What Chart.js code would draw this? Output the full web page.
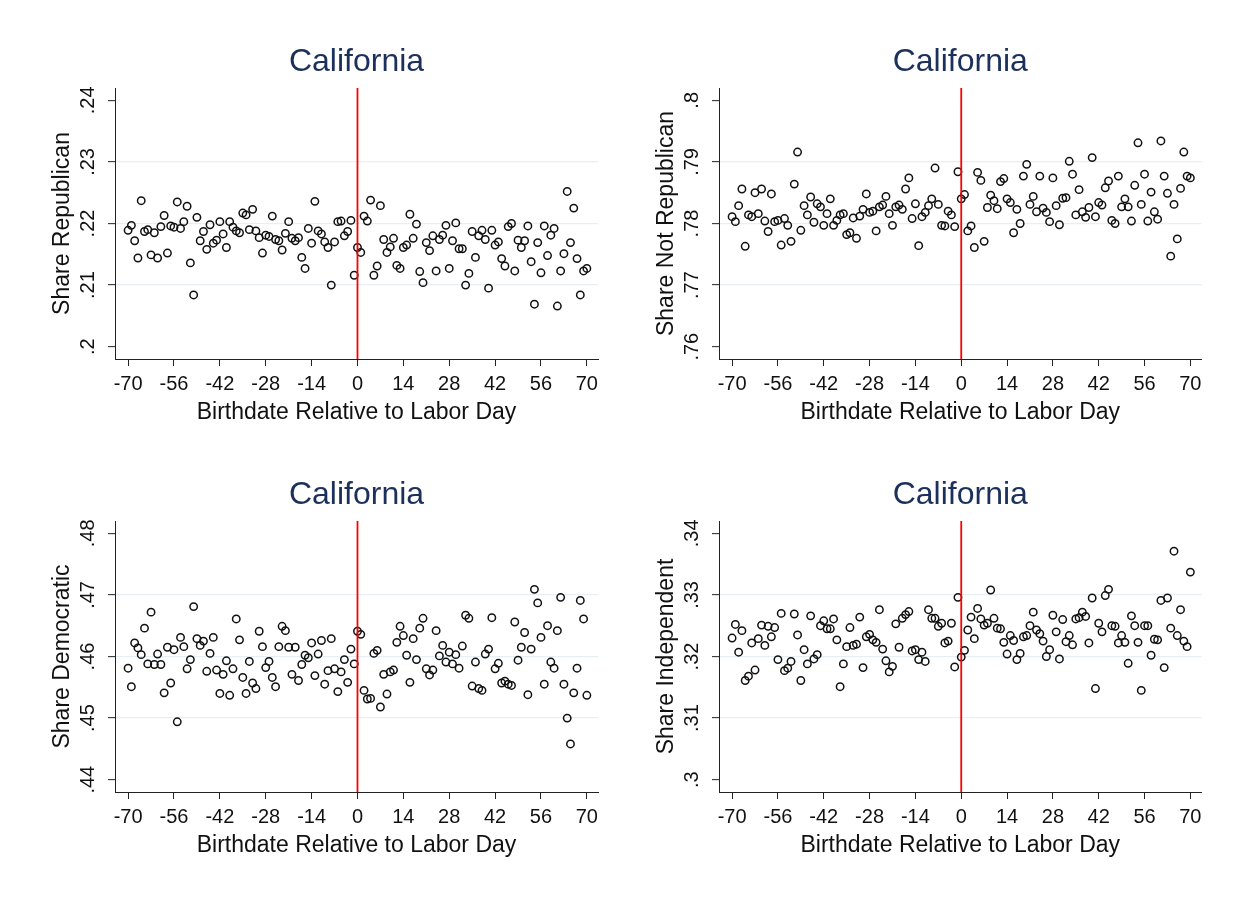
<!DOCTYPE html>
<html>
<head>
<meta charset="utf-8">
<title>California birthdate shares</title>
<script src="https://cdn.jsdelivr.net/npm/chart.js@4.4.1/dist/chart.umd.min.js"></script>
<style>
    html, body { margin: 0; padding: 0; background: #fff; }
    #page { position: relative; width: 1247px; height: 907px; overflow: hidden; background: #fff; }
    canvas { position: absolute; }
</style>
</head>
<body>
<div id="page">
    <canvas id="panel-rep" width="623" height="453" style="left:0;top:0;width:623px;height:453px"></canvas>
    <canvas id="panel-notrep" width="624" height="453" style="left:623px;top:0;width:624px;height:453px"></canvas>
    <canvas id="panel-dem" width="623" height="454" style="left:0;top:453px;width:623px;height:454px"></canvas>
    <canvas id="panel-ind" width="624" height="454" style="left:623px;top:453px;width:624px;height:454px"></canvas>
</div>
<script>
// Días relativos al Labor Day (-70 ... 70)
const days = [];
for (let d = -70; d <= 70; d++) days.push(d);

const xTicks = [-70, -56, -42, -28, -14, 0, 14, 28, 42, 56, 70];

// Share Republican, un valor por día
const shareRepublican = [
    .2189, .2197, .2172, .2144, .2237, .2187, .2190, .2149, .2185, .2144,
    .2195, .2213, .2152, .2196, .2194, .2235, .2192, .2203, .2228, .2136,
    .2084, .2210, .2172, .2187, .2158, .2198, .2168, .2173, .2203, .2183,
    .2161, .2203, .2194, .2188, .2185, .2217, .2214, .2190, .2223, .2188,
    .2177, .2152, .2181, .2179, .2212, .2174, .2172, .2157, .2184, .2203,
    .2176, .2172, .2177, .2145, .2127, .2192, .2168, .2236, .2188, .2183,
    .2170, .2161, .2100, .2170, .2203, .2204, .2180, .2187, .2205, .2116,
    .2161, .2153, .2212, .2204, .2238, .2116, .2131, .2229, .2174, .2153,
    .2162, .2176, .2132, .2127, .2161, .2165, .2215, .2176, .2199, .2122,
    .2104, .2169, .2156, .2180, .2123, .2174, .2181, .2197, .2127, .2172,
    .2201, .2159, .2159, .2100, .2119, .2187, .2145, .2180, .2189, .2174,
    .2095, .2189, .2165, .2170, .2143, .2131, .2195, .2200, .2123, .2173,
    .2161, .2172, .2196, .2138, .2069, .2169, .2120, .2196, .2148, .2181,
    .2192, .2066, .2123, .2151, .2252, .2169, .2225, .2143, .2084, .2123, .2127
];

// Share Not Republican
const shareNotRepublican = [
    .7811, .7803, .7829, .7856, .7763, .7814, .7811, .7850, .7816, .7856,
    .7804, .7787, .7848, .7803, .7805, .7765, .7808, .7797, .7771, .7864,
    .7916, .7789, .7829, .7814, .7843, .7802, .7832, .7827, .7797, .7816,
    .7840, .7797, .7805, .7814, .7816, .7782, .7785, .7809, .7776, .7812,
    .7823, .7848, .7818, .7820, .7788, .7827, .7830, .7844, .7816, .7797,
    .7827, .7830, .7823, .7856, .7874, .7808, .7832, .7764, .7811, .7818,
    .7829, .7840, .7890, .7831, .7797, .7796, .7820, .7814, .7795, .7884,
    .7840, .7847, .7788, .7796, .7761, .7883, .7870, .7771, .7826, .7846,
    .7837, .7824, .7868, .7873, .7840, .7834, .7785, .7823, .7800, .7877,
    .7896, .7831, .7844, .7819, .7877, .7825, .7818, .7803, .7874, .7829,
    .7798, .7841, .7842, .7901, .7880, .7814, .7855, .7819, .7810, .7826,
    .7907, .7811, .7834, .7830, .7858, .7869, .7805, .7800, .7877, .7827,
    .7840, .7827, .7804, .7862, .7931, .7831, .7880, .7804, .7851, .7819,
    .7807, .7934, .7877, .7849, .7747, .7831, .7775, .7857, .7916, .7877, .7874
];

// Share Democratic
const shareDemocratic = [
    .4581, .4551, .4622, .4614, .4603, .4646, .4588, .4672, .4587, .4604,
    .4587, .4541, .4615, .4557, .4611, .4494, .4631, .4616, .4580, .4595,
    .4681, .4629, .4618, .4625, .4576, .4605, .4631, .4578, .4540, .4571,
    .4593, .4537, .4580, .4661, .4627, .4566, .4540, .4592, .4557, .4548,
    .4641, .4616, .4582, .4592, .4566, .4551, .4616, .4649, .4642, .4615,
    .4571, .4615, .4561, .4587, .4602, .4598, .4622, .4569, .4604, .4626,
    .4555, .4577, .4629, .4580, .4543, .4575, .4595, .4558, .4612, .4588,
    .4641, .4636, .4545, .4531, .4532, .4605, .4610, .4518, .4571, .4539,
    .4575, .4578, .4623, .4649, .4634, .4602, .4558, .4629, .4595, .4646,
    .4662, .4580, .4570, .4578, .4642, .4601, .4618, .4591, .4607, .4588,
    .4603, .4581, .4617, .4667, .4662, .4552, .4591, .4548, .4545, .4604,
    .4612, .4663, .4580, .4589, .4557, .4560, .4555, .4553, .4656, .4594,
    .4615, .4639, .4538, .4612, .4709, .4687, .4631, .4555, .4650, .4591,
    .4581, .4642, .4696, .4555, .4500, .4458, .4541, .4581, .4691, .4661, .4537
];

// Share Independent
const shareIndependent = [
    .3230, .3252, .3207, .3242, .3161, .3168, .3222, .3178, .3229, .3251,
    .3218, .3249, .3232, .3247, .3195, .3270, .3177, .3181, .3192, .3269,
    .3235, .3161, .3211, .3188, .3266, .3196, .3203, .3250, .3258, .3245,
    .3245, .3261, .3227, .3151, .3188, .3216, .3247, .3218, .3220, .3264,
    .3182, .3232, .3236, .3227, .3223, .3276, .3212, .3193, .3175, .3184,
    .3253, .3215, .3262, .3268, .3273, .3209, .3211, .3195, .3207, .3192,
    .3276, .3262, .3262, .3249, .3254, .3222, .3225, .3254, .3183, .3296,
    .3199, .3210, .3243, .3264, .3229, .3278, .3261, .3251, .3254, .3308,
    .3262, .3246, .3245, .3223, .3204, .3234, .3226, .3195, .3205, .3232,
    .3234, .3250, .3272, .3243, .3237, .3225, .3200, .3211, .3267, .3240,
    .3196, .3260, .3224, .3234, .3219, .3261, .3263, .3272, .3265, .3222,
    .3295, .3148, .3254, .3240, .3299, .3309, .3250, .3249, .3222, .3234,
    .3223, .3189, .3266, .3250, .3223, .3145, .3250, .3250, .3202, .3228,
    .3227, .3291, .3182, .3295, .3246, .3371, .3234, .3276, .3225, .3216, .3337
];

const repTicks = [.20, .21, .22, .23, .24];
const notRepTicks = [.76, .77, .78, .79, .80];
const demTicks = [.44, .45, .46, .47, .48];
const indTicks = [.30, .31, .32, .33, .34];

const FONT = '"Liberation Sans", Arial, Helvetica, sans-serif';
const titleColor = '#1c305c';
const gridColor = '#e6eff1';
const axisColor = '#222';

// .20 -> ".2", .24 -> ".24"
function fmtTick(v) {
    return v.toFixed(2).replace(/0+$/, '').replace(/^0/, '');
}

// Títulos, etiquetas del eje y (rotadas) y títulos de ejes
const panelText = {
    id: 'panelText',
    afterDraw(chart, args, opts) {
        const {ctx, chartArea, scales} = chart;
        const cx = (chartArea.left + chartArea.right) / 2;
        const cy = (chartArea.top + chartArea.bottom) / 2;
        ctx.save();
        ctx.textAlign = 'center';
        ctx.textBaseline = 'middle';

        ctx.fillStyle = titleColor;
        ctx.font = '32px ' + FONT;
        ctx.fillText(opts.title, cx, chartArea.top - 26);

        ctx.fillStyle = '#111';
        ctx.font = '23px ' + FONT;
        ctx.fillText(opts.xTitle, cx, chartArea.bottom + 54);

        ctx.font = '20px ' + FONT;
        opts.yTicks.forEach(v => {
            const y = scales.y.getPixelForValue(v);
            ctx.save();
            ctx.translate(chartArea.left - 27, y);
            ctx.rotate(-Math.PI / 2);
            ctx.fillText(fmtTick(v), 0, 0);
            ctx.restore();
        });

        ctx.font = '23px ' + FONT;
        ctx.save();
        ctx.translate(chartArea.left - 52, cy);
        ctx.rotate(-Math.PI / 2);
        ctx.fillText(opts.yTitle, 0, 0);
        ctx.restore();

        ctx.restore();
    }
};

function makePanel(id, values, yTicks, yTitle, box) {
    const canvas = document.getElementById(id);
    const W = canvas.width, H = canvas.height;
    const yMin = yTicks[0] - 0.002;
    const yMax = yTicks[yTicks.length - 1] + 0.002;
    const points = days.map((d, i) => ({x: d, y: values[i]}));

    return new Chart(canvas, {
        type: 'scatter',
        data: {
            datasets: [
                {
                    // línea vertical en el Labor Day
                    data: [{x: 0, y: yMin}, {x: 0, y: yMax}],
                    showLine: true,
                    borderColor: '#ff0000',
                    borderWidth: 1.8,
                    pointRadius: 0,
                    pointHoverRadius: 0
                },
                {
                    data: points,
                    pointRadius: 3.7,
                    pointHoverRadius: 3.7,
                    borderWidth: 1.5,
                    borderColor: '#111',
                    backgroundColor: 'rgba(0,0,0,0)'
                }
            ]
        },
        options: {
            responsive: false,
            animation: false,
            events: [],
            layout: {
                autoPadding: false,
                padding: {left: 0, top: box.top, right: W - box.right, bottom: 0}
            },
            plugins: {
                legend: {display: false},
                tooltip: {enabled: false},
                title: {display: false},
                panelText: {title: 'California', xTitle: 'Birthdate Relative to Labor Day', yTitle, yTicks}
            },
            scales: {
                x: {
                    type: 'linear',
                    min: -74,
                    max: 73.4,
                    afterBuildTicks: s => { s.ticks = xTicks.map(v => ({value: v})); },
                    afterFit: s => { s.height = H - box.bottom; },
                    grid: {drawOnChartArea: false, drawTicks: true, tickLength: 7, tickColor: axisColor, tickWidth: 1},
                    border: {display: true, color: axisColor, width: 1},
                    ticks: {
                        font: {family: FONT, size: 20},
                        color: '#111',
                        padding: 6,
                        autoSkip: false,
                        maxRotation: 0,
                        minRotation: 0
                    }
                },
                y: {
                    type: 'linear',
                    min: yMin,
                    max: yMax,
                    afterBuildTicks: s => { s.ticks = yTicks.map(v => ({value: v})); },
                    afterFit: s => { s.width = box.left; },
                    grid: {
                        // sin líneas de cuadrícula en los extremos
                        color: c => (c.tick && c.tick.value > yTicks[0] && c.tick.value < yTicks[yTicks.length - 1]) ? gridColor : 'rgba(0,0,0,0)',
                        lineWidth: 1.3,
                        drawTicks: true,
                        tickLength: 7,
                        tickColor: axisColor,
                        tickWidth: 1
                    },
                    border: {display: true, color: axisColor, width: 1},
                    ticks: {display: false}
                }
            }
        },
        plugins: [panelText]
    });
}

makePanel('panel-rep', shareRepublican, repTicks, 'Share Republican', {left: 115, top: 88, right: 598, bottom: 359});
makePanel('panel-notrep', shareNotRepublican, notRepTicks, 'Share Not Republican', {left: 96, top: 88, right: 578.5, bottom: 359});
makePanel('panel-dem', shareDemocratic, demTicks, 'Share Democratic', {left: 115, top: 68, right: 598, bottom: 339});
makePanel('panel-ind', shareIndependent, indTicks, 'Share Independent', {left: 96, top: 68, right: 578.5, bottom: 339});
</script>
</body>
</html>
